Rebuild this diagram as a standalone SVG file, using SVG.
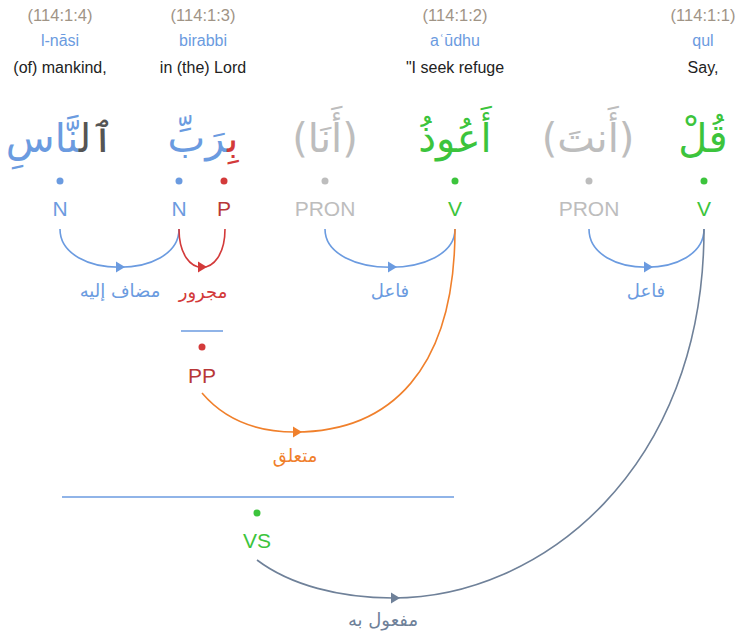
<svg xmlns="http://www.w3.org/2000/svg" xmlns:xlink="http://www.w3.org/1999/xlink" width="742" height="637" viewBox="0 0 742 637">
<style>
.ref{font-family:"Liberation Sans",Arial,sans-serif;font-size:16.5px;fill:#a09486;text-anchor:middle}
.tr{font-family:"Liberation Sans",Arial,sans-serif;font-size:16px;fill:#6b9be0;text-anchor:middle}
.en{font-family:"Liberation Sans",Arial,sans-serif;font-size:16px;fill:#222;text-anchor:middle}
.ar{font-family:"DejaVu Sans","Liberation Serif",serif;font-size:40px;text-anchor:middle}
.tag{font-family:"Liberation Sans",Arial,sans-serif;font-size:21px;text-anchor:middle}
.lbl{font-family:"DejaVu Sans",serif;font-size:18px;text-anchor:middle}
.blue{fill:#6b9be0}.red{fill:#d33a3a}.dred{fill:#b83838}.grn{fill:#3cc43c}.gry{fill:#bdbdbd}.dk{fill:#555}.org{fill:#f0802c}.sl{fill:#6f8199}
.arc{fill:none;stroke-width:1.6}
</style>
<defs>
<path id="ah" d="M-3,-5.5 L6,0 L-3,5.5 Z"/>
</defs>
<g id="w4">
<text class="ref" x="60" y="21">(114:1:4)</text>
<text class="tr" x="60" y="46">l-nāsi</text>
<text class="en" x="60" y="73">(of) mankind,</text>
<text class="ar" x="60" y="152" direction="rtl"><tspan class="dk">ٱل</tspan><tspan class="blue">نَّاسِ</tspan></text>
</g>
<g id="w3">
<text class="ref" x="203" y="21">(114:1:3)</text>
<text class="tr" x="203" y="46">birabbi</text>
<text class="en" x="203" y="73">in (the) Lord</text>
<text class="ar" x="203" y="152" direction="rtl"><tspan class="red">بِ</tspan><tspan class="blue">رَبِّ</tspan></text>
</g>
<g id="h2">
<text class="ar gry" x="325" y="152" direction="rtl">(أَنَا)</text>
</g>
<g id="w2">
<text class="ref" x="455" y="21">(114:1:2)</text>
<text class="tr" x="455" y="46">aʿūdhu</text>
<text class="en" x="455" y="73">"I seek refuge</text>
<text class="ar grn" x="455" y="152" direction="rtl">أَعُوذُ</text>
</g>
<g id="h1">
<text class="ar gry" x="588" y="152" direction="rtl">(أَنتَ)</text>
</g>
<g id="w1">
<text class="ref" x="703" y="21">(114:1:1)</text>
<text class="tr" x="703" y="46">qul</text>
<text class="en" x="703" y="73">Say,</text>
<text class="ar grn" x="703" y="152" direction="rtl">قُلْ</text>
</g>
<g id="n-N1"><circle class="blue" cx="60" cy="181" r="3.5"/><text class="tag blue" x="60" y="216">N</text></g>
<g id="n-N2"><circle class="blue" cx="179" cy="181" r="3.5"/><text class="tag blue" x="179" y="216">N</text></g>
<g id="n-P"><circle class="red" cx="224" cy="181" r="3.5"/><text class="tag dred" x="224" y="216">P</text></g>
<g id="n-PRON2"><circle class="gry" cx="325" cy="181" r="3.5"/><text class="tag gry" x="325" y="216">PRON</text></g>
<g id="n-V2"><circle class="grn" cx="455" cy="181" r="3.5"/><text class="tag grn" x="455" y="216">V</text></g>
<g id="n-PRON1"><circle class="gry" cx="589" cy="181" r="3.5"/><text class="tag gry" x="589" y="216">PRON</text></g>
<g id="n-V1"><circle class="grn" cx="704" cy="181" r="3.5"/><text class="tag grn" x="704" y="216">V</text></g>
<g id="n-PP">
<line x1="181" y1="331" x2="223" y2="331" stroke="#6b9be0" stroke-width="1.6"/>
<circle class="red" cx="202" cy="347" r="3.5"/><text class="tag dred" x="202" y="383">PP</text>
</g>
<g id="n-VS">
<line x1="62" y1="497" x2="454" y2="497" stroke="#6b9be0" stroke-width="1.6"/>
<circle class="grn" cx="257" cy="513" r="3.5"/><text class="tag grn" x="257" y="548">VS</text>
</g>
<g id="connectors">
<path class="arc" stroke="#6b9be0" d="M60,229 C60,280 179,280 179,229"/>
<use xlink:href="#ah" class="blue" transform="translate(119,267)"/>
<text class="lbl blue" x="120" y="297">مضاف إليه</text>
<path class="arc" stroke="#d33a3a" d="M179,229 C179,280 225,280 225,229"/>
<use xlink:href="#ah" class="red" transform="translate(201,267)"/>
<text class="lbl red" x="203" y="298">مجرور</text>
<path class="arc" stroke="#6b9be0" d="M325,229 C325,280 455,280 455,229"/>
<use xlink:href="#ah" class="blue" transform="translate(391,267)"/>
<text class="lbl blue" x="390" y="297">فاعل</text>
<path class="arc" stroke="#6b9be0" d="M589,229 C589,280 704,280 704,229"/>
<use xlink:href="#ah" class="blue" transform="translate(647,267)"/>
<text class="lbl blue" x="646" y="297">فاعل</text>
<path class="arc" stroke="#f0802c" d="M202,393 C225,420 255,432 295,432 C390,432 455,370 455,229"/>
<use xlink:href="#ah" class="org" transform="translate(296,432)"/>
<text class="lbl org" x="295" y="462">متعلق</text>
<path class="arc" stroke="#6f8199" d="M257,560 C290,585 340,598 393,598 C540,598 704,470 704,229"/>
<use xlink:href="#ah" class="sl" transform="translate(394,598)"/>
<text class="lbl sl" x="383" y="626">مفعول به</text>
</g>
</svg>
